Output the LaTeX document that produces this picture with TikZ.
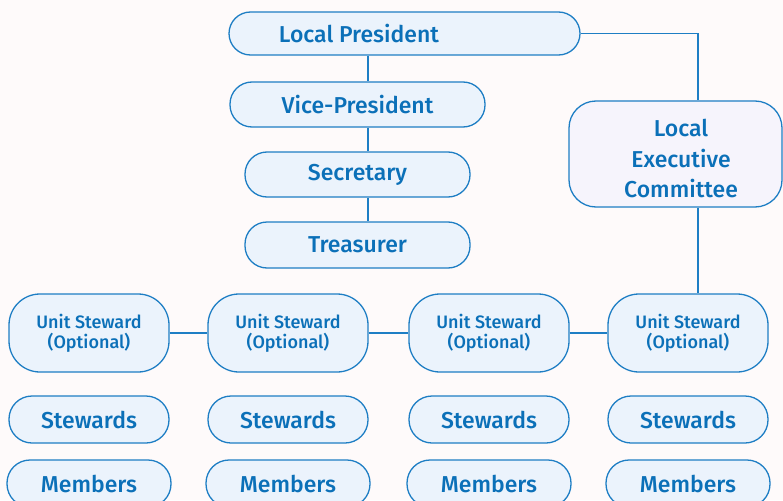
\documentclass[tikz,border=0pt]{standalone}
\usepackage{fontspec}
\setmainfont{Fira Sans}[UprightFont={* Medium}]
\definecolor{bg}{HTML}{FEFAFA}
\definecolor{boxfill}{HTML}{EBF3FC}
\definecolor{lecfill}{HTML}{F6F4FC}
\definecolor{edge}{HTML}{1E7EC4}
\definecolor{txtc}{HTML}{0B70B8}
\tikzset{
  pill/.style={draw=edge, fill=boxfill, line width=1.3pt, rounded corners=#1, inner sep=0pt},
  pill/.default=22pt,
  txt/.style={text=txtc, font=\fontsize{23}{26}\selectfont, inner sep=0pt, align=center},
  smalltxt/.style={text=txtc, font=\fontsize{18}{20}\selectfont, inner sep=0pt, align=center},
  conn/.style={draw=edge, line width=1.3pt},
}
\begin{document}
\begin{tikzpicture}[x=1pt,y=-1pt]
\fill[bg] (0,0) rectangle (783,500);
\useasboundingbox (0,0) rectangle (783,500);
\clip (0,0) rectangle (783,500);
% top column
\node[pill=21.5pt, minimum width=351pt, minimum height=43pt] (lp) at (404.5,33.5) {};
\node[txt] (lpt) at (359,33.5) {Local President};
\node[pill, minimum width=255pt, minimum height=45pt, txt] (vp) at (357.5,104.5) {Vice-President};
\node[pill, minimum width=225pt, minimum height=45pt, txt] (sec) at (357.5,174.5) {Secretary};
\node[pill, minimum width=225pt, minimum height=46pt, txt] (tre) at (357.5,245) {Treasurer};
\coordinate (vx) at (368,0);
\draw[conn] (lp.south -| vx) -- (vp.north -| vx);
\draw[conn] (vp.south -| vx) -- (sec.north -| vx);
\draw[conn] (sec.south -| vx) -- (tre.north -| vx);
% LEC
\node[pill=27pt, fill=lecfill, minimum width=213pt, minimum height=106pt] (lec) at (675.5,154) {};
\node[txt, font=\fontsize{23}{30.5}\selectfont] (lect) at (681,158.5) {Local\\Executive\\Committee};
\coordinate (lx) at (698,0);
\draw[conn] (lp.east) -- (lp.east -| lx) -- (lec.north -| lx);
% units
\foreach \i/\c in {1/89,2/288,3/489,4/688}{
  \node[pill=31pt, minimum width=160pt, minimum height=78pt, smalltxt] (us\i) at (\c,333) {Unit Steward\\(Optional)};
  \node[pill=23pt, minimum width=160pt, minimum height=47pt, txt] (st\i) at (\c,419.5) {Stewards};
  \node[pill=23pt, minimum width=164pt, minimum height=47pt, txt] (mb\i) at (\c,483.5) {Members};
}
\draw[conn] (us1.east) -- (us2.west);
\draw[conn] (us2.east) -- (us3.west);
\draw[conn] (us3.east) -- (us4.west);
\draw[conn] (lec.south -| lx) -- (us4.north -| lx);
\end{tikzpicture}
\end{document}
